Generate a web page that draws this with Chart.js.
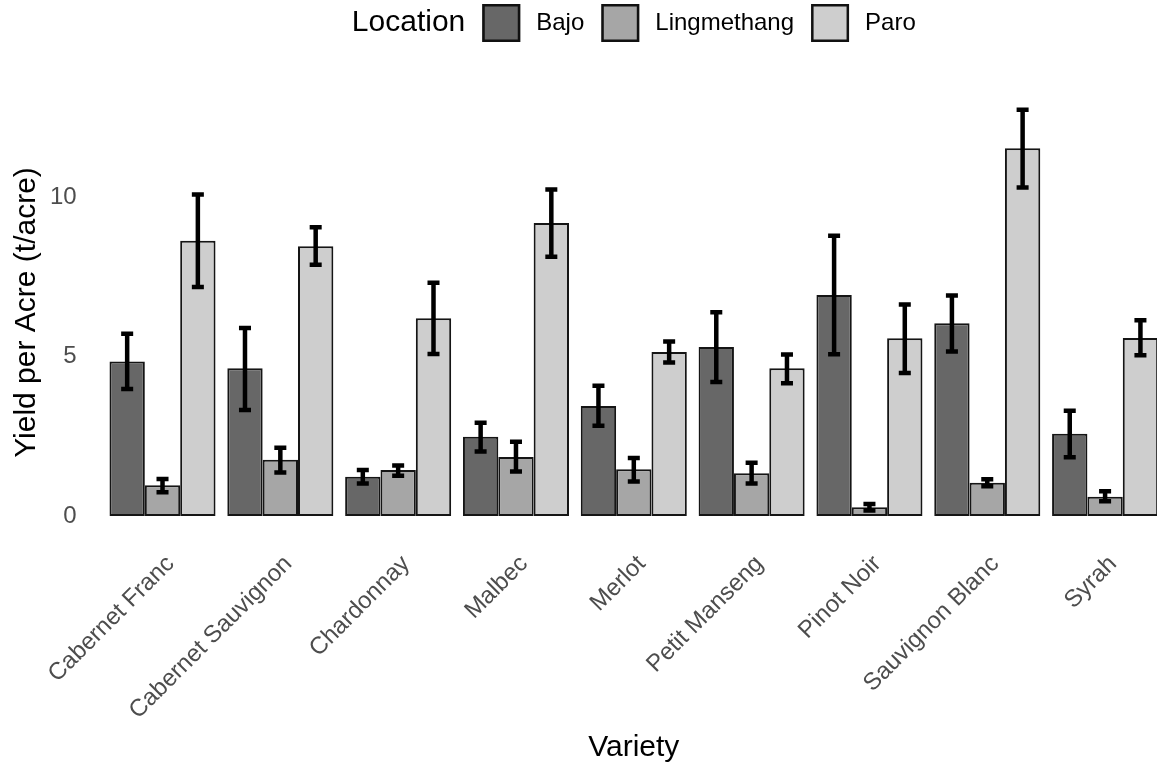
<!DOCTYPE html>
<html>
<head>
    <title>Yield per acre by variety</title>
    <meta charset="UTF-8">
    <script src="https://cdn.jsdelivr.net/npm/chart.js@4.4.1/dist/chart.umd.min.js"></script>
    <style>
        html, body { margin: 0; padding: 0; overflow: hidden; background: #fff; }
    </style>
</head>
<body>
<canvas id="myChart" width="1170" height="769"></canvas>
<script>
    const varieties = ['Cabernet Franc', 'Cabernet Sauvignon', 'Chardonnay', 'Malbec', 'Merlot',
        'Petit Manseng', 'Pinot Noir', 'Sauvignon Blanc', 'Syrah'];
    const locations = ['Bajo', 'Lingmethang', 'Paro'];

    const bajo = [4.84, 4.63, 1.23, 2.48, 3.45, 5.30, 6.93, 6.04, 2.58];
    const bajoLow = [3.98, 3.32, 1.02, 2.02, 2.83, 4.20, 5.07, 5.16, 1.84];
    const bajoHigh = [5.71, 5.89, 1.44, 2.92, 4.08, 6.39, 8.79, 6.91, 3.30];

    const lingmethang = [0.96, 1.76, 1.44, 1.85, 1.46, 1.34, 0.27, 1.04, 0.60];
    const lingmethangLow = [0.74, 1.36, 1.26, 1.39, 1.08, 1.02, 0.17, 0.93, 0.46];
    const lingmethangHigh = [1.16, 2.14, 1.58, 2.33, 1.82, 1.67, 0.37, 1.15, 0.77];

    const paro = [8.63, 8.46, 6.20, 9.19, 5.14, 4.63, 5.57, 11.53, 5.58];
    const paroLow = [7.18, 7.88, 5.08, 8.13, 4.81, 4.16, 4.48, 10.30, 5.04];
    const paroHigh = [10.08, 9.05, 7.31, 10.24, 5.47, 5.06, 6.63, 12.74, 6.14];

    const yTicks = [0, 5, 10];

    const fills = ['#676767', '#a6a6a6', '#cecece'];
    const font = "'Liberation Sans', Arial, sans-serif";

    // error bars drawn on top of the bars, using the y scale
    const errorBars = {
        id: 'errorBars',
        afterDatasetsDraw(chart) {
            const ctx = chart.ctx;
            const y = chart.scales.y;
            ctx.save();
            ctx.strokeStyle = '#000';
            ctx.lineWidth = 4.5;
            chart.data.datasets.forEach((ds, i) => {
                chart.getDatasetMeta(i).data.forEach((bar, j) => {
                    const top = y.getPixelForValue(ds.high[j]);
                    const bottom = y.getPixelForValue(ds.low[j]);
                    const half = bar.width * 0.17;
                    ctx.beginPath();
                    ctx.moveTo(bar.x, top);
                    ctx.lineTo(bar.x, bottom);
                    ctx.moveTo(bar.x - half, top);
                    ctx.lineTo(bar.x + half, top);
                    ctx.moveTo(bar.x - half, bottom);
                    ctx.lineTo(bar.x + half, bottom);
                    ctx.stroke();
                });
            });
            ctx.restore();
        }
    };

    // ggplot style legend: title on the same row as the keys
    const topLegend = {
        id: 'topLegend',
        afterDraw(chart) {
            const ctx = chart.ctx;
            const area = chart.chartArea;
            const box = 38, cy = 23;
            ctx.save();
            ctx.textBaseline = 'middle';
            ctx.font = '30px ' + font;
            const titleW = ctx.measureText('Location').width;
            ctx.font = '24px ' + font;
            let total = titleW;
            chart.data.datasets.forEach(ds => {
                total += 17 + box + 16 + ctx.measureText(ds.label).width;
            });
            let x = (area.left + area.right) / 2 - total / 2;
            ctx.fillStyle = '#000';
            ctx.font = '30px ' + font;
            ctx.fillText('Location', x, cy);
            x += titleW;
            ctx.font = '24px ' + font;
            chart.data.datasets.forEach(ds => {
                x += 17;
                ctx.fillStyle = ds.backgroundColor;
                ctx.fillRect(x, cy - box / 2, box, box);
                ctx.lineWidth = 2.5;
                ctx.strokeStyle = '#111';
                ctx.strokeRect(x + 1.25, cy - box / 2 + 1.25, box - 2.5, box - 2.5);
                x += box + 16;
                ctx.fillStyle = '#000';
                ctx.fillText(ds.label, x, cy);
                x += ctx.measureText(ds.label).width;
            });
            ctx.restore();
        }
    };

    const values = [bajo, lingmethang, paro];
    const lows = [bajoLow, lingmethangLow, paroLow];
    const highs = [bajoHigh, lingmethangHigh, paroHigh];

    const datasets = locations.map((name, i) => ({
        label: name,
        data: values[i],
        low: lows[i],
        high: highs[i],
        backgroundColor: fills[i],
        borderColor: '#151515',
        borderWidth: 2,
        borderSkipped: false,
        categoryPercentage: 0.9,
        barPercentage: 1.0
    }));

    let ctx = document.getElementById('myChart').getContext('2d');
    let myChart = new Chart(ctx, {
        type: 'bar',
        data: {
            labels: varieties,
            datasets: datasets
        },
        plugins: [errorBars, topLegend],
        options: {
            responsive: false,
            animation: false,
            layout: {padding: {top: 89, right: 6, bottom: 0, left: 0}},
            plugins: {
                legend: {display: false},
                tooltip: {enabled: false}
            },
            scales: {
                x: {
                    grid: {display: false, drawTicks: false},
                    border: {display: false},
                    ticks: {
                        autoSkip: false,
                        minRotation: 45,
                        maxRotation: 45,
                        padding: 14,
                        labelOffset: 8,
                        color: '#4d4d4d',
                        font: {family: font, size: 24}
                    },
                    title: {
                        display: true,
                        text: 'Variety',
                        color: '#000',
                        padding: {top: 0, bottom: 3},
                        font: {family: font, size: 30}
                    },
                    afterFit(scale) { scale.height = 233; }
                },
                y: {
                    min: -0.63,
                    max: 13.39,
                    grid: {display: false, drawTicks: false},
                    border: {display: false},
                    afterBuildTicks(scale) {
                        scale.ticks = yTicks.map(v => ({value: v}));
                    },
                    ticks: {
                        padding: 27,
                        color: '#4d4d4d',
                        font: {family: font, size: 24}
                    },
                    title: {
                        display: true,
                        text: 'Yield per Acre (t/acre)',
                        color: '#000',
                        padding: {top: 9, bottom: 0},
                        font: {family: font, size: 30}
                    },
                    afterFit(scale) { scale.width = 103.6; }
                }
            }
        }
    });
</script>
</body>
</html>
